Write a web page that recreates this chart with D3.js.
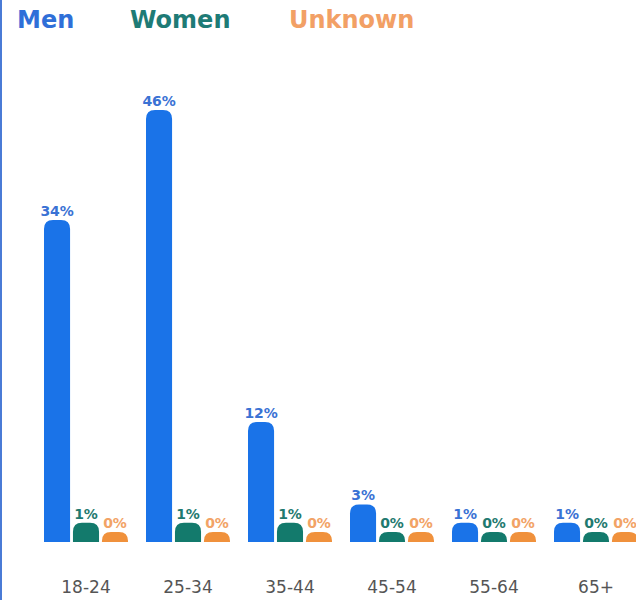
<!DOCTYPE html>
<html><head><meta charset="utf-8">
<script src="https://cdn.jsdelivr.net/npm/d3@7"></script>
<style>
html,body{margin:0;padding:0;background:#fff;}
svg{display:block;font-family:"DejaVu Sans",Arial,Helvetica,sans-serif;}
</style></head>
<body>
<script>
const categories = ["18-24","25-34","35-44","45-54","55-64","65+"];
const seriesNames = ["Men","Women","Unknown"];
const men = [34,46,12,3,1,1];
const women = [1,1,1,0,0,0];
const unknown = [0,0,0,0,0,0];
const seriesValues = [men, women, unknown];
const barColors = ["#1a73e8","#137a6c","#f0913c"];
const labelColors = ["#3a72d4","#1f7a70","#f2a366"];
const legendColors = ["#2f6fd8","#1e7b76","#f2a065"];

const W = 636, H = 600;
const svg = d3.select("body").append("svg").attr("width",W).attr("height",H);

// left border
svg.append("line").attr("x1",1).attr("x2",1).attr("y1",0).attr("y2",H)
  .attr("stroke","#4a7bd6").attr("stroke-width",2);

// legend
const legendPos = [17,130,289];
svg.selectAll(".leg").data(seriesNames).join("text")
  .attr("x",(d,i)=> legendPos[i])
  .attr("y",28)
  .attr("font-size",24).attr("font-weight","bold")
  .attr("fill",(d,i)=>legendColors[i])
  .text(d=>d);

const baseline = 542;
const minH = 10;
const x0 = d3.scaleBand().domain(categories).range([35,647]).padding(0);
const x1 = d3.scaleBand().domain(seriesNames).range([9,93]).paddingInner(0.1);
const y = d3.scaleLinear().domain([0,46]).range([baseline-minH,110]);

function topRounded(x, yTop, w, h){
  const r = Math.min(9, h, w/2);
  return `M${x},${yTop+h} L${x},${yTop+r} Q${x},${yTop} ${x+r},${yTop} L${x+w-r},${yTop} Q${x+w},${yTop} ${x+w},${yTop+r} L${x+w},${yTop+h} Z`;
}

const g = svg.append("g");
categories.forEach((c,ci)=>{
  const gg = g.append("g").attr("transform",`translate(${x0(c)},0)`);
  seriesNames.forEach((s,si)=>{
    const v = seriesValues[si][ci];
    const bx = x1(s), bw = x1.bandwidth();
    const top = y(v);
    gg.append("path").attr("d",topRounded(bx, top, bw, baseline-top)).attr("fill",barColors[si]);
  });
  seriesNames.forEach((s,si)=>{
    const v = seriesValues[si][ci];
    const bx = x1(s), bw = x1.bandwidth();
    const top = y(v);
    gg.append("text").attr("x",bx+bw/2).attr("y",top-4)
      .attr("text-anchor","middle").attr("font-size",14).attr("font-weight","bold")
      .attr("letter-spacing","-0.2")
      .attr("fill",labelColors[si]).text(v+"%");
  });
});

// x axis labels
const xAxis = d3.axisBottom(x0).tickSize(0).tickPadding(0);
const ax = svg.append("g").attr("transform",`translate(0,${baseline+51})`).call(xAxis);
ax.select(".domain").remove();
ax.selectAll("text").attr("font-size",17).attr("fill","#555").attr("dy",0)
  .attr("font-family","'DejaVu Sans',Arial,sans-serif");
</script>
</body></html>
